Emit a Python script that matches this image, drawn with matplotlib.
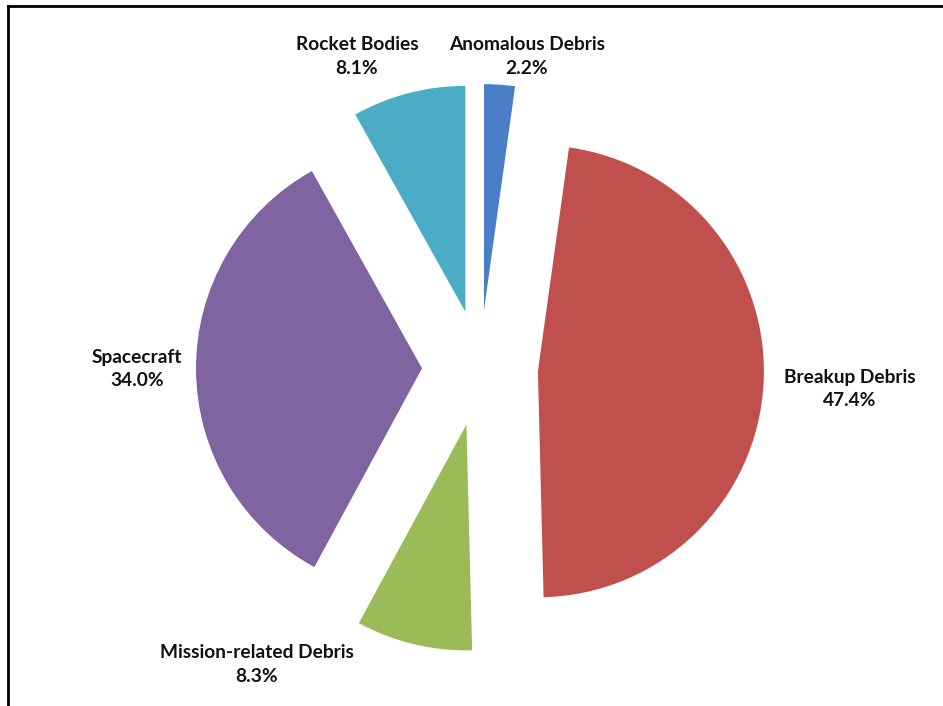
import matplotlib.pyplot as plt
from matplotlib.lines import Line2D

# Share of catalogued objects by type
names = ['Anomalous Debris', 'Breakup Debris', 'Mission-related Debris', 'Spacecraft', 'Rocket Bodies']
shares = [2.2, 47.4, 8.3, 34.0, 8.1]
colors = ['#4A7EC6', '#C0504D', '#9BBB59', '#8064A2', '#4BACC6']

# label anchors in pixel coords (x, y from top)
label_xy = [(527, 56), (850, 389), (257, 664), (137, 369), (357, 56)]

W, H = 943, 706
fig = plt.figure(figsize=(W / 100, H / 100), dpi=100)
ax = fig.add_axes([0, 0, 1, 1])

radius = 226
ax.pie(shares, colors=colors, startangle=90, counterclock=False,
       center=(480, H - 368), radius=radius, explode=[58] * len(shares),
       frame=True)
ax.set_xlim(0, W)
ax.set_ylim(0, H)
ax.set_aspect('equal')
ax.axis('off')

for name, val, (x, y) in zip(names, shares, label_xy):
    ax.text(x, H - y, f'{name}\n{val:.1f}%', ha='center', va='center',
            fontsize=13.8, fontweight='bold', family='Lato',
            linespacing=1.5, color='#111111')

# frame lines along the top and left
fig.add_artist(Line2D([8 / W, 8 / W], [0, 1 - 6 / H], transform=fig.transFigure,
                      color='black', lw=2))
fig.add_artist(Line2D([8 / W, 1], [1 - 6 / H, 1 - 6 / H], transform=fig.transFigure,
                      color='black', lw=2))

fig.savefig('out.png', dpi=100)
